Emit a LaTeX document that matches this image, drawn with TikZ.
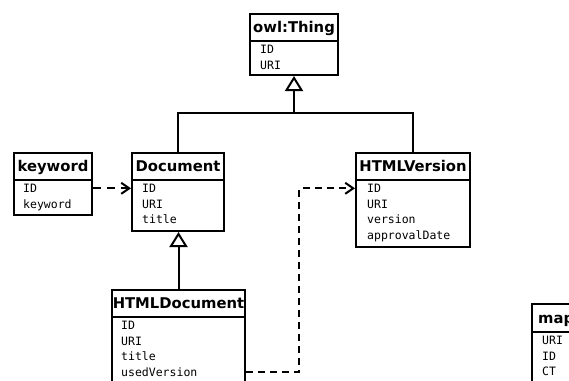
\documentclass[tikz,border=0pt]{standalone}
\usepackage{fontspec}
\setmainfont{DejaVu Sans}
\setmonofont{DejaVu Sans Mono}
\usetikzlibrary{arrows.meta}
\tikzset{
  box/.style={draw, line width=2pt, anchor=north west, inner sep=0pt},
  ttl/.style={font=\bfseries\fontsize{14.8}{17}\selectfont, text height=10pt, text depth=0pt},
  attr/.style={anchor=base west, inner sep=0pt, font=\ttfamily\fontsize{11.5}{15.5}\selectfont},
  conn/.style={line width=2pt},
  inh/.style={conn, -{Triangle[open, length=15pt, width=18pt, line width=2pt]}},
  dep/.style={conn, dash pattern=on 8pt off 6pt, -{Straight Barb[length=8pt, width=11pt, line width=2pt]}}
}
\newcommand\attrlist[4]{%
  \foreach \t [count=\i] in {#4} {\node[attr] (#1-\i) at (#2, {#3+15.5*(\i-1)}) {\t};}}
\begin{document}
\begin{tikzpicture}[x=1pt, y=-1pt]
\useasboundingbox (0,0) rectangle (569,380);
\clip (0,0) rectangle (569,380);
% owl:Thing
\node[box, ttl, minimum width=88pt, minimum height=27pt] (thing-t) at (249,13) {owl:Thing};
\node[box, minimum width=88pt, minimum height=34pt] (thing-b) at (249,40) {};
\attrlist{thing}{260}{53.5}{ID,URI}
% keyword
\node[box, ttl, minimum width=78pt, minimum height=27pt] (kw-t) at (13,152) {keyword};
\node[box, minimum width=78pt, minimum height=35pt] (kw-b) at (13,179) {};
\attrlist{kw}{23}{192.5}{ID,keyword}
% Document
\node[box, ttl, minimum width=92pt, minimum height=27pt] (doc-t) at (131,152) {Document};
\node[box, minimum width=92pt, minimum height=51pt] (doc-b) at (131,179) {};
\attrlist{doc}{142}{192.5}{ID,URI,title}
% HTMLVersion
\node[box, ttl, minimum width=114pt, minimum height=27pt] (hv-t) at (355,152) {HTMLVersion};
\node[box, minimum width=114pt, minimum height=67pt] (hv-b) at (355,179) {};
\attrlist{hv}{367}{192.5}{ID,URI,version,approvalDate}
% HTMLDocument
\node[box, ttl, minimum width=133pt, minimum height=27pt] (hd-t) at (111,289) {HTMLDocument};
\node[box, minimum width=133pt, minimum height=100pt] (hd-b) at (111,316) {};
\attrlist{hd}{121}{329.5}{ID,URI,title,usedVersion}
% map (cut off at the picture's edge)
\node[box, minimum width=100pt, minimum height=28pt] (map-t) at (531,303) {};
\node[anchor=base west, inner sep=0pt, font=\bfseries\fontsize{14.8}{17}\selectfont] (map-n) at (538,323) {map};
\node[box, minimum width=100pt, minimum height=80pt] (map-b) at (531,331) {};
\attrlist{map}{542}{344.5}{URI,ID,CT}
% connectors
\coordinate (j) at (thing-b.south |- 0,113);
\draw[conn] (doc-t.north) |- (j) -| (hv-t.north);
\draw[inh] (j) -- (thing-b.south);
\draw[inh] (hd-t.north) -- (hd-t.north |- doc-b.south);
\draw[dep] (kw-b.east |- kw-1.center) -- (doc-b.west |- kw-1.center);
\coordinate (bend) at (299,0);
\draw[dep, dash pattern=on 7pt off 5pt] (hd-b.east |- hd-4.center) -| (bend |- hv-1.center) -- (hv-b.west |- hv-1.center);
\end{tikzpicture}
\end{document}
